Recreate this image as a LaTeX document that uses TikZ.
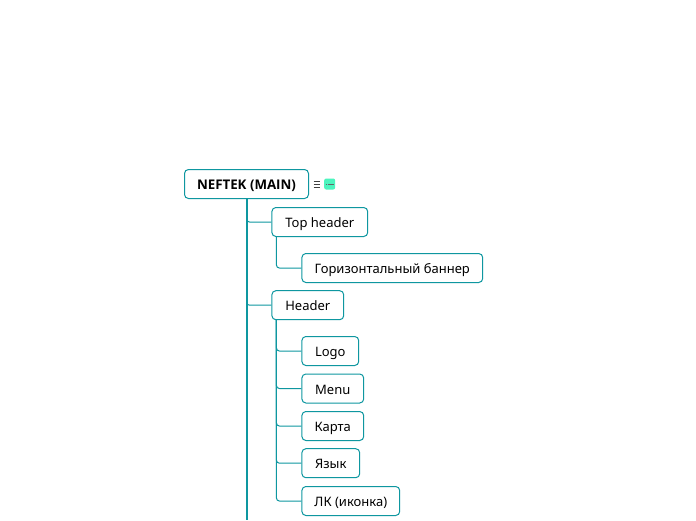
\documentclass[tikz,border=0pt]{standalone}
\usepackage{fontspec}
\setmainfont{Noto Sans}
\newfontfamily\titlefont{Open Sans}
\definecolor{tealb}{HTML}{0E97A0}
\definecolor{mint}{HTML}{4CF5BE}
\tikzset{
  topic/.style={draw=tealb,line width=1pt,rounded corners=4pt,fill=white,minimum height=29pt,inner sep=0pt,anchor=west,text=black,font=\fontsize{13}{15}\selectfont,align=center,text height=14pt,text depth=3pt},
  link/.style={draw=tealb,line width=1pt,rounded corners=3pt},
  trunk/.style={draw=tealb,line width=2pt},
}
\begin{document}
\begin{tikzpicture}[x=1pt,y=-1pt]
\useasboundingbox (0,0) rectangle (696,520);
\fill[white] (0,0) rectangle (696,520);
\node[topic,minimum width=124pt,font=\fontsize{13.3}{15}\selectfont\titlefont\bfseries] (main) at (184,184) {NEFTEK (MAIN)};
\node[topic,minimum width=95.8pt] (top) at (271.4,222) {Top header};
\node[topic,minimum width=180.8pt] (horiz) at (301.4,268) {Горизонтальный баннер};
\node[topic,minimum width=71.8pt] (header) at (271.4,305.2) {Header};
\node[topic,minimum width=56.8pt] (logo) at (301.4,351) {Logo};
\node[topic,minimum width=61.8pt] (menu) at (301.4,388.5) {Menu};
\node[topic,minimum width=61.8pt] (karta) at (301.4,426) {Карта};
\node[topic,minimum width=57.8pt] (yazyk) at (301.4,463.2) {Язык};
\node[topic,minimum width=97.8pt] (lk) at (301.4,501) {ЛК (иконка)};
\coordinate (trunkstart) at (main.south);
\coordinate (trunkend) at (trunkstart |- 0,520);
\draw[link] (trunkstart) |- (top.west);
\draw[link] (trunkstart) |- (header.west);
\draw[link] ([xshift=5pt]top.south west) |- (horiz.west);
\draw[link] ([xshift=5pt]header.south west) |- (logo.west);
\draw[link] ([xshift=5pt]header.south west) |- (menu.west);
\draw[link] ([xshift=5pt]header.south west) |- (karta.west);
\draw[link] ([xshift=5pt]header.south west) |- (yazyk.west);
\draw[link] ([xshift=5pt]header.south west) |- (lk.west);
\draw[trunk] (trunkstart) -- (trunkend);
% icons
\draw[black!75,line width=1pt] (313.5,181) -- (320,181) (313.5,184) -- (320,184) (313.5,187) -- (320,187);
\node[fill=mint,rounded corners=2pt,minimum width=11pt,minimum height=11pt,inner sep=0pt,anchor=west] (tag) at (324,184) {};
\draw[black!60,line width=0.8pt,dash pattern=on 1.4pt off 0.4pt] ([xshift=1.7pt]tag.west) -- ([xshift=-1.7pt]tag.east);
\end{tikzpicture}
\end{document}
